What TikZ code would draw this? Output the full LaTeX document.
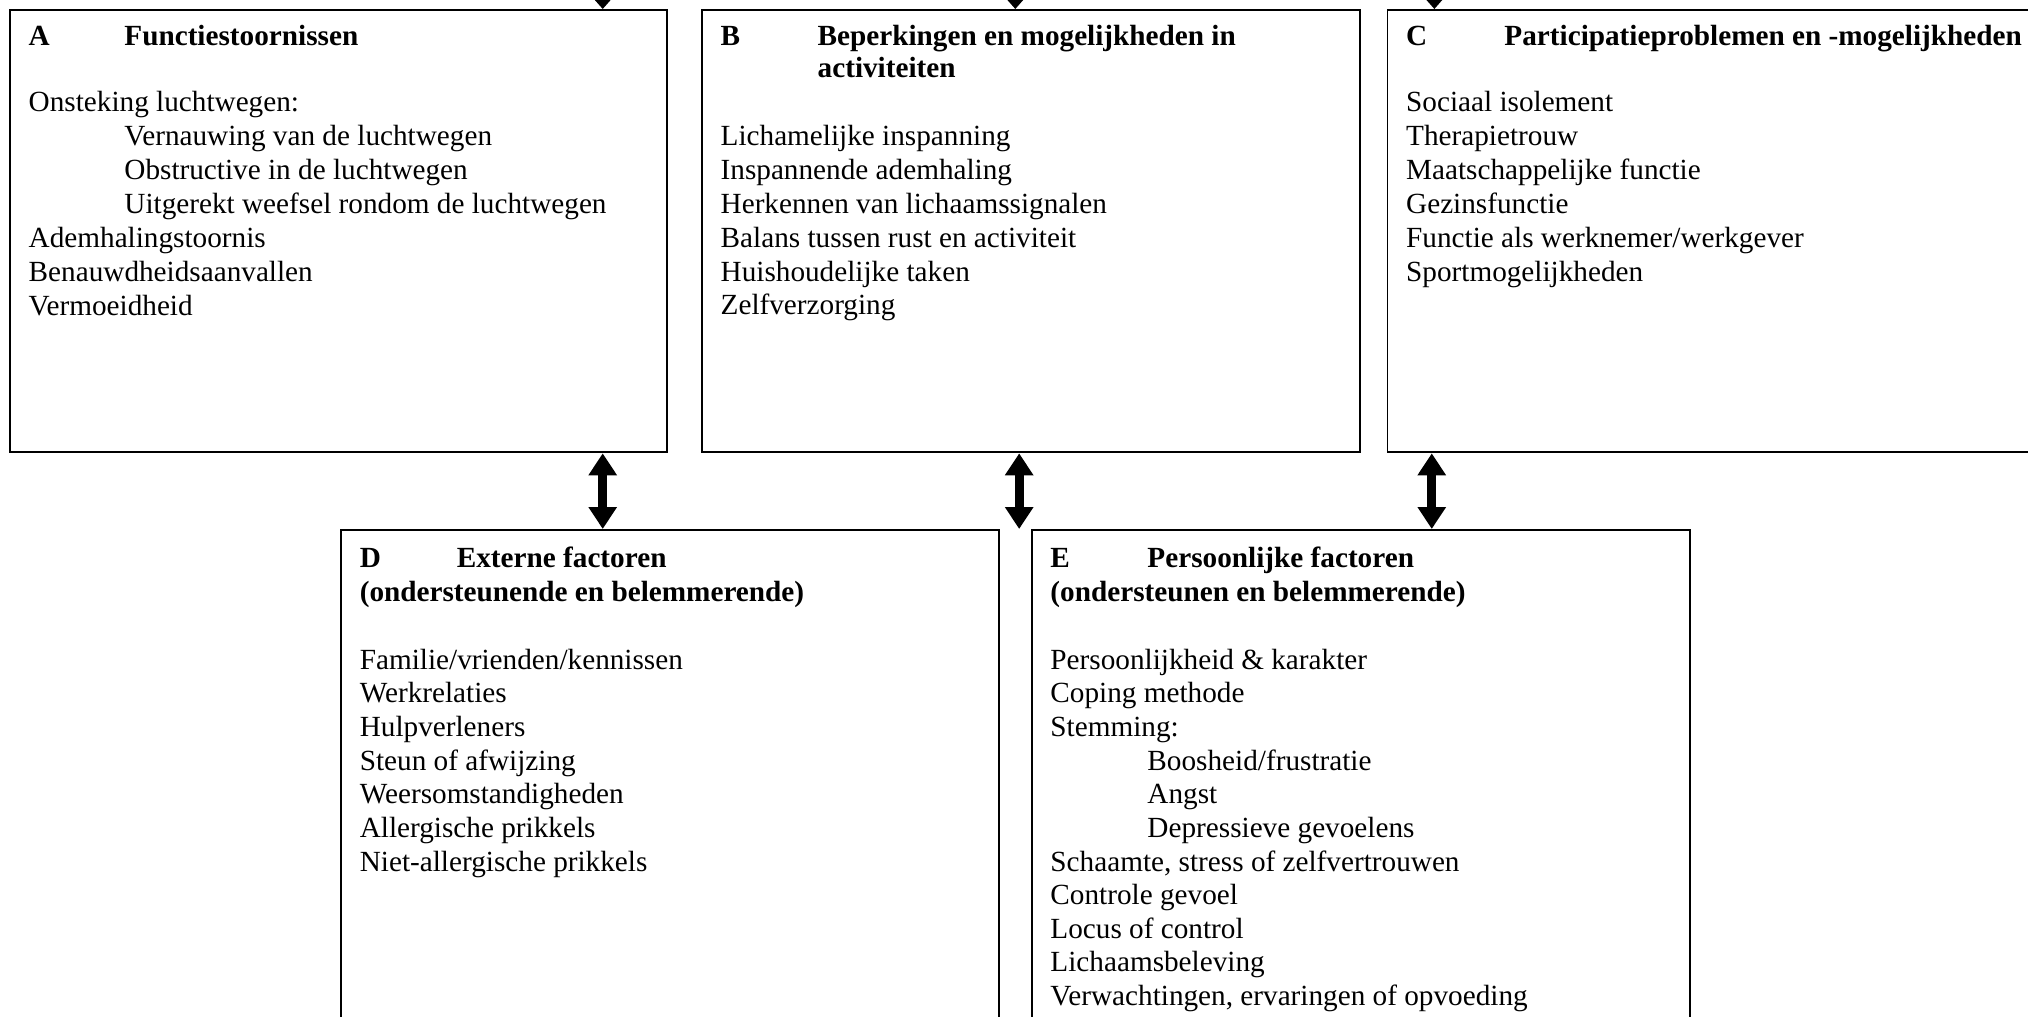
\documentclass[tikz,border=0pt]{standalone}
\usepackage{fontspec}
\setmainfont{Liberation Serif}
\usetikzlibrary{arrows.meta}
\begin{document}
\begin{tikzpicture}[x=1pt,y=-1pt,
  box/.style={draw, line width=1.5pt, rectangle, inner sep=0pt, anchor=north west},
  txt/.style={anchor=base west, inner sep=0pt, font=\fontsize{22.6}{26}\selectfont},
  hd/.style={anchor=base west, inner sep=0pt, font=\fontsize{22.6}{26}\selectfont\bfseries},
  dbl/.style={line width=7pt, {Triangle[width=21pt,length=17pt]}-{Triangle[width=21pt,length=17pt]}},
  sgl/.style={line width=7pt, -{Triangle[width=22pt,length=13pt]}},
]
\useasboundingbox (0,0) rectangle (1568,786);
\clip (0,0) rectangle (1568,786);
\fill[white] (0,0) rectangle (1568,786);

% boxes
\node[box, minimum width=508pt, minimum height=342pt] (A) at (7,7) {};
\node[box, minimum width=509pt, minimum height=342pt] (B) at (542,7) {};
\node[box, minimum width=600pt, minimum height=342pt] (C) at (1072,7) {};
\node[box, minimum width=509pt, minimum height=450pt] (D) at (263,409) {};
\node[box, minimum width=509pt, minimum height=450pt] (E) at (797,409) {};

% box A
\node[hd, name=tA1] at (22,35) {A};
\node[hd, name=tA2] at (96,35) {Functiestoornissen};
\foreach \t/\x [count=\i] in {{Onsteking luchtwegen:}/22, {Vernauwing van de luchtwegen}/96,
  {Obstructive in de luchtwegen}/96, {Uitgerekt weefsel rondom de luchtwegen}/96,
  {Ademhalingstoornis}/22, {Benauwdheidsaanvallen}/22, {Vermoeidheid}/22}
  \node[txt, name=a\i] at (\x, 60.3+26.2*\i) {\t};

% box B
\node[hd, name=tB1] at (557,35) {B};
\node[hd, name=tB2] at (632,35) {Beperkingen en mogelijkheden in};
\node[hd, name=tB3] at (632,60) {activiteiten};
\foreach \t [count=\i] in {Lichamelijke inspanning, Inspannende ademhaling,
  Herkennen van lichaamssignalen, Balans tussen rust en activiteit,
  Huishoudelijke taken, Zelfverzorging}
  \node[txt, name=b\i] at (557, 86.3+26.2*\i) {\t};

% box C
\node[hd, name=tC1] at (1087,35) {C};
\node[hd, name=tC2] at (1163,35) {Participatieproblemen en -mogelijkheden};
\foreach \t [count=\i] in {Sociaal isolement, Therapietrouw, Maatschappelijke functie,
  Gezinsfunctie, Functie als werknemer/werkgever, Sportmogelijkheden}
  \node[txt, name=c\i] at (1087, 60.3+26.2*\i) {\t};

% box D
\node[hd, name=tD1] at (278,439) {D};
\node[hd, name=tD2] at (353,439) {Externe factoren};
\node[hd, name=tD3] at (278,465) {(ondersteunende en belemmerende)};
\foreach \t [count=\i] in {Familie/vrienden/kennissen, Werkrelaties, Hulpverleners,
  Steun of afwijzing, Weersomstandigheden, Allergische prikkels, Niet-allergische prikkels}
  \node[txt, name=d\i] at (278, 491.5+26*\i) {\t};

% box E
\node[hd, name=tE1] at (812,439) {E};
\node[hd, name=tE2] at (887,439) {Persoonlijke factoren};
\node[hd, name=tE3] at (812,465) {(ondersteunen en belemmerende)};
\foreach \t/\x [count=\i] in {{Persoonlijkheid \& karakter}/812, {Coping methode}/812,
  {Stemming:}/812, {Boosheid/frustratie}/887, {Angst}/887, {Depressieve gevoelens}/887,
  {Schaamte, stress of zelfvertrouwen}/812, {Controle gevoel}/812,
  {Locus of control}/812, {Lichaamsbeleving}/812,
  {Verwachtingen, ervaringen of opvoeding}/812}
  \node[txt, name=e\i] at (\x, 491.5+26*\i) {\t};

% connectors
\coordinate (ta) at (466,-60);
\coordinate (tb) at (785,-60);
\coordinate (tc) at (1109,-60);
\draw[sgl] (ta) -- (A.north -| ta);
\draw[sgl] (tb) -- (B.north -| tb);
\draw[sgl] (tc) -- (C.north -| tc);

\coordinate (l) at (466,0);
\coordinate (m) at (788,409);
\coordinate (r) at (1107,0);
\draw[dbl] (A.south -| l) -- (D.north -| l);
\draw[dbl] (B.south -| m) -- (m);
\draw[dbl] (C.south -| r) -- (E.north -| r);
\end{tikzpicture}
\end{document}
